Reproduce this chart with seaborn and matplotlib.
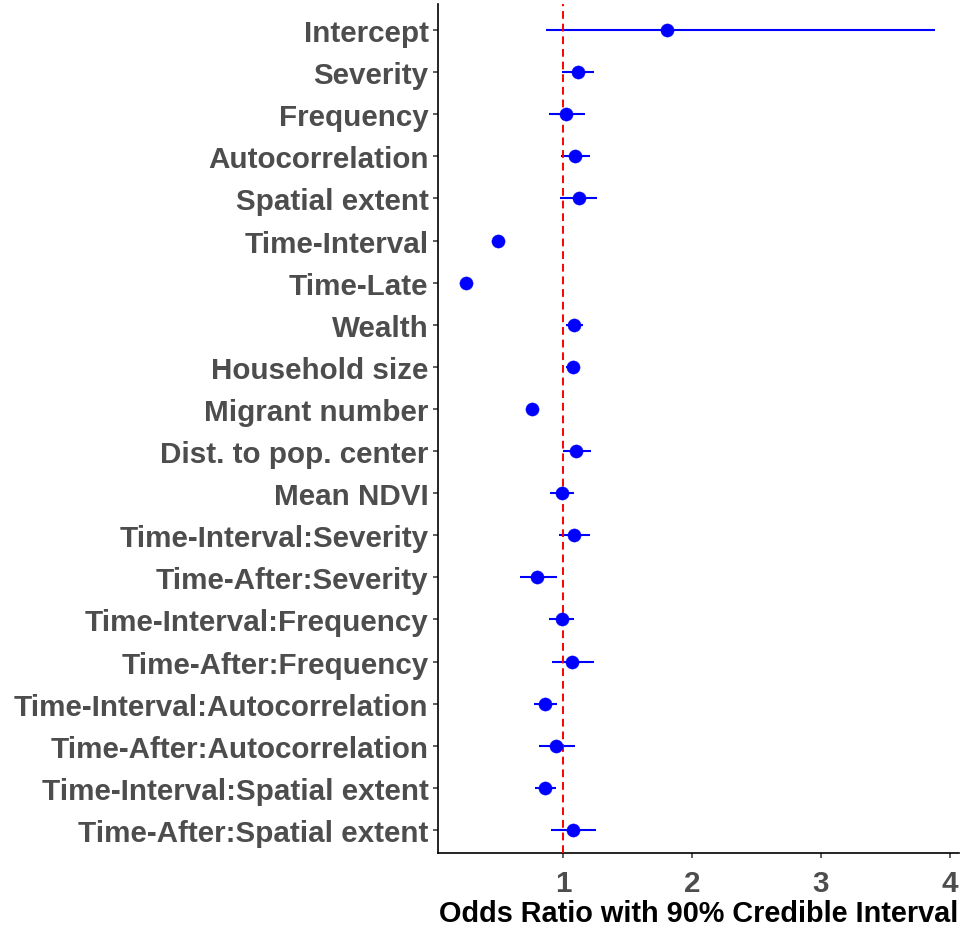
import pandas as pd
import seaborn as sns
import matplotlib.pyplot as plt

# terms, top to bottom
terms = [
    "Intercept", "Severity", "Frequency", "Autocorrelation", "Spatial extent",
    "Time-Interval", "Time-Late", "Wealth", "Household size", "Migrant number",
    "Dist. to pop. center", "Mean NDVI", "Time-Interval:Severity",
    "Time-After:Severity", "Time-Interval:Frequency", "Time-After:Frequency",
    "Time-Interval:Autocorrelation", "Time-After:Autocorrelation",
    "Time-Interval:Spatial extent", "Time-After:Spatial extent",
]
# odds ratio estimates
odds = [1.808, 1.114, 1.021, 1.093, 1.120, 0.497, 0.248, 1.085, 1.078, 0.758,
        1.104, 0.990, 1.085, 0.801, 0.992, 1.067, 0.859, 0.947, 0.859, 1.077]
# 90% credible interval
lower = [0.867, 0.989, 0.888, 0.981, 0.973, 0.470, 0.215, 1.026, 1.026, 0.725,
         0.998, 0.902, 0.969, 0.664, 0.888, 0.918, 0.774, 0.817, 0.782, 0.910]
upper = [3.884, 1.242, 1.173, 1.207, 1.263, 0.525, 0.280, 1.153, 1.132, 0.790,
         1.217, 1.083, 1.210, 0.954, 1.085, 1.240, 0.952, 1.093, 0.944, 1.258]

df = pd.DataFrame({"term": terms, "odds": odds, "lower": lower, "upper": upper})

sns.set_theme(style="ticks")
plt.rcParams["font.family"] = ["Liberation Sans", "DejaVu Sans"]

fig = plt.figure(figsize=(9.67, 9.29), dpi=100)
ax = fig.add_axes([0.4529, 0.0807, 0.9914 - 0.4529, 0.9946 - 0.0807])

sns.pointplot(data=df, x="odds", y="term", order=terms, color="blue",
              linestyle="none", markers="o", markersize=9.5, markeredgewidth=0.3,
              errorbar=None, ax=ax, zorder=4)

ypos = [terms.index(t) for t in df["term"]]
ax.hlines(ypos, df["lower"], df["upper"], color="blue", linewidth=1.5, zorder=2)
ax.axvline(1, color="red", linestyle=(0, (4, 2.5)), linewidth=1.4, zorder=3)

n = len(terms)
ax.set_ylim(n - 1 + 0.55, -0.62)
ax.set_xlim(0.030, 4.067)
ax.set_xticks([1, 2, 3, 4])

sns.despine(ax=ax)
for side in ["left", "bottom"]:
    ax.spines[side].set_linewidth(1.2)
    ax.spines[side].set_color("black")

ax.tick_params(axis="both", length=3.3, width=1.1, color="#333333", pad=3.5,
               labelsize=21.3, labelcolor="#4d4d4d")
ax.tick_params(axis="x", pad=8)
for lab in ax.get_xticklabels() + ax.get_yticklabels():
    lab.set_fontweight("bold")

ax.set_ylabel("")
ax.set_xlabel("Odds Ratio with 90% Credible Interval", fontsize=20.8,
              fontweight="bold", color="black", labelpad=1.5)

fig.savefig("out.png", dpi=100)
